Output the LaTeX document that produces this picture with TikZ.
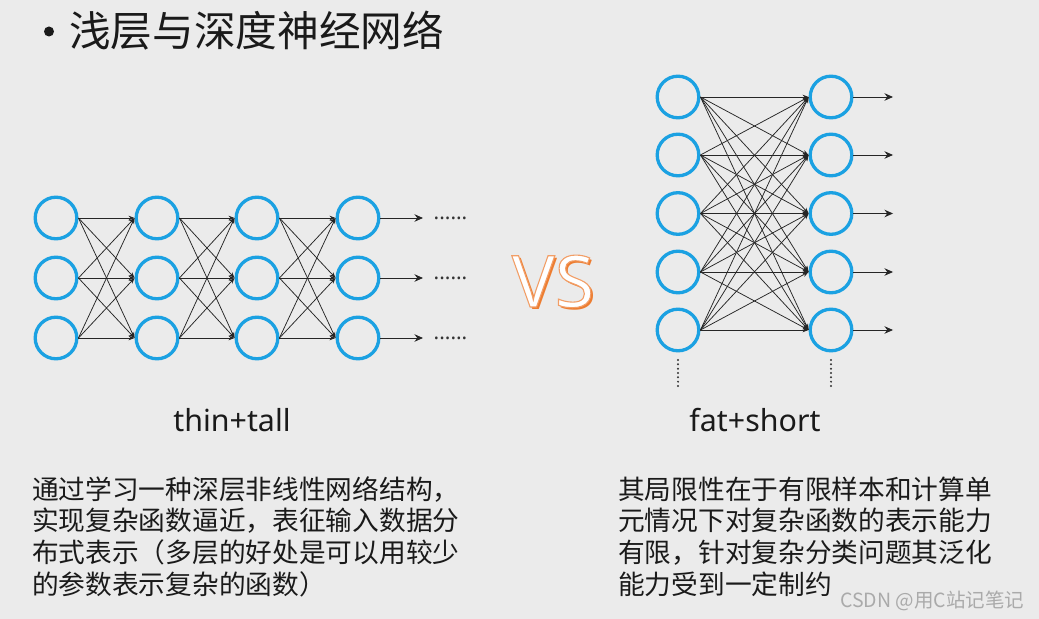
\documentclass[tikz,border=0pt]{standalone}
\usepackage{fontspec}
\usetikzlibrary{arrows.meta,calc}
\newfontfamily\cjk{Noto Sans CJK SC}
\newfontfamily\lat{Noto Sans}
\definecolor{bg}{RGB}{235,235,235}
\definecolor{nnblue}{RGB}{27,161,226}
\definecolor{vsorange}{RGB}{237,125,49}
\definecolor{txt}{RGB}{26,26,26}
\definecolor{wmark}{RGB}{170,170,170}
\tikzset{
  neuron/.style={circle, draw=nnblue, line width=3.3bp, minimum size=41.6bp, inner sep=0pt},
  edge/.style={line width=0.75bp, draw=black!85, -{Stealth[length=6bp,width=4.5bp]}},
  outarrow/.style={line width=0.9bp, draw=black!85, -{Stealth[length=8.5bp,width=7.5bp]}},
  vdots/.style={line width=2.2bp, draw=black!80, line cap=round, dash pattern=on 0bp off 4.33bp},
  bodytext/.style={anchor=base west, inner sep=0pt, text=txt, font=\cjk\fontsize{26.8}{31.7}\selectfont},
  hdots/.style={anchor=base west, inner sep=0pt, text=black!80, font=\lat\fontsize{21}{21}\selectfont},
  label/.style={anchor=base, inner sep=0pt, text=txt, font=\lat\fontsize{30.5}{30.5}\selectfont},
  vsfont/.style={anchor=base, inner sep=0pt, font=\lat\fontsize{72}{72}\selectfont}
}
\begin{document}
\begin{tikzpicture}[x=1bp,y=-1bp]
\fill[bg] (0,0) rectangle (1039,619);
\useasboundingbox (0,0) rectangle (1039,619);

% title
\node[circle, fill=txt, minimum size=10bp, inner sep=0pt] (bullet) at (49,31.5) {};
\node[anchor=base west, inner sep=0pt, text=txt, font=\cjk\fontsize{41.8}{41.8}\selectfont] (title) at (69,47) {浅层与深度神经网络};

% left network (thin+tall)
\foreach \c/\x in {1/56,2/157,3/257,4/358}{
  \foreach \r/\y in {1/218,2/278,3/338}{
    \node[neuron] (L-\c-\r) at (\x,\y) {};
  }
}
\foreach \c in {1,2,3}{
  \pgfmathtruncatemacro{\n}{\c+1}
  \foreach \i in {1,2,3}{
    \foreach \j in {1,2,3}{
      \draw[edge] (L-\c-\i.east) -- (L-\n-\j.west);
    }
  }
}
\foreach \r/\y in {1/218,2/278,3/338}{
  \coordinate (Lo-\r) at (423,\y);
  \draw[outarrow] (L-4-\r.east) -- (Lo-\r);
  \node[hdots] (Ld-\r) at (433.5,\y+1.2) {......};
}

% right network (fat+short)
\foreach \c/\x in {1/678,2/831}{
  \foreach \r/\y in {1/97,2/155,3/213.5,4/272,5/330}{
    \node[neuron] (R-\c-\r) at (\x,\y) {};
  }
}
\foreach \i in {1,...,5}{
  \foreach \j in {1,...,5}{
    \draw[edge] (R-1-\i.east) -- (R-2-\j.west);
  }
}
\foreach \r/\y in {1/97,2/155,3/213.5,4/272,5/330}{
  \coordinate (Ro-\r) at (893,\y);
  \draw[outarrow] (R-2-\r.east) -- (Ro-\r);
}
\draw[vdots] (678,360) -- (678,386.5);
\draw[vdots] (831,360) -- (831,386.5);

% VS: orange shadow, then white letters with a thin orange outline
\node[vsfont, text=vsorange] (vs-shadow) at (555.5,309.5) {VS};
\node[vsfont, text=white] (vs) at (553,307)
  {\special{pdf:literal direct 2 Tr 1.1 w 0.95 0.62 0.40 RG}VS\special{pdf:literal direct 0 Tr}};

% labels
\node[label] (thin) at (232,431) {thin+tall};
\node[label] (fat) at (755,431) {fat+short};

% left text
\node[bodytext] (l1) at (32,499) {通过学习一种深层非线性网络结构，};
\node[bodytext] (l2) at (32,530.7) {实现复杂函数逼近，表征输入数据分};
\node[bodytext] (l3) at (32,562.4) {布式表示（多层的好处是可以用较少};
\node[bodytext] (l4) at (32,594.1) {的参数表示复杂的函数）};

% right text
\node[bodytext] (r1) at (618,499) {其局限性在于有限样本和计算单};
\node[bodytext] (r2) at (618,530.7) {元情况下对复杂函数的表示能力};
\node[bodytext] (r3) at (618,562.4) {有限，针对复杂分类问题其泛化};
\node[bodytext] (r4) at (618,594.1) {能力受到一定制约};

% watermark
\node[anchor=base west, inner sep=0pt, text=wmark, font=\cjk\fontsize{19.6}{19.6}\selectfont] (wm) at (840,607) {CSDN @用C站记笔记};
\end{tikzpicture}
\end{document}
